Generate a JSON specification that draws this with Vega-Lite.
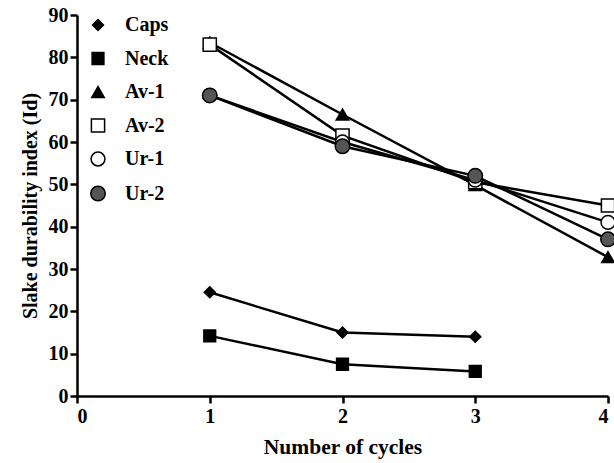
{
  "$schema": "https://vega.github.io/schema/vega-lite/v6.json",
  "width": 531,
  "height": 381,
  "autosize": {"type": "none"},
  "padding": {"left": 77, "top": 15, "right": 6, "bottom": 67},
  "background": "white",
  "config": {
    "view": {"stroke": null},
    "font": "Liberation Serif",
    "axis": {
      "grid": false,
      "domainColor": "black",
      "domainWidth": 2.5,
      "tickColor": "black",
      "tickWidth": 2.5,
      "tickSize": 7,
      "labelFont": "Liberation Serif",
      "labelFontWeight": "bold",
      "labelFontSize": 20,
      "labelColor": "black",
      "titleFont": "Liberation Serif",
      "titleFontWeight": "bold",
      "titleColor": "black"
    },
    "legend": {
      "labelFont": "Liberation Serif",
      "labelFontWeight": "bold",
      "labelFontSize": 20,
      "labelColor": "black",
      "title": null,
      "orient": "none",
      "legendX": 11,
      "legendY": 0,
      "padding": 0,
      "rowPadding": 13.5,
      "labelOffset": 17,
      "symbolStrokeWidth": 1.5
    }
  },
  "data": {
    "values": [
      {"series": "Caps", "cycles": 1, "index": 24.5},
      {"series": "Caps", "cycles": 2, "index": 15},
      {"series": "Caps", "cycles": 3, "index": 14},
      {"series": "Neck", "cycles": 1, "index": 14.2},
      {"series": "Neck", "cycles": 2, "index": 7.5},
      {"series": "Neck", "cycles": 3, "index": 5.8},
      {"series": "Av-1", "cycles": 1, "index": 83.5},
      {"series": "Av-1", "cycles": 2, "index": 66.5},
      {"series": "Av-1", "cycles": 3, "index": 49.8},
      {"series": "Av-1", "cycles": 4, "index": 32.8},
      {"series": "Av-2", "cycles": 1, "index": 83},
      {"series": "Av-2", "cycles": 2, "index": 61.5},
      {"series": "Av-2", "cycles": 3, "index": 50.5},
      {"series": "Av-2", "cycles": 4, "index": 45},
      {"series": "Ur-1", "cycles": 1, "index": 71},
      {"series": "Ur-1", "cycles": 2, "index": 60},
      {"series": "Ur-1", "cycles": 3, "index": 51},
      {"series": "Ur-1", "cycles": 4, "index": 41},
      {"series": "Ur-2", "cycles": 1, "index": 71},
      {"series": "Ur-2", "cycles": 2, "index": 59},
      {"series": "Ur-2", "cycles": 3, "index": 52},
      {"series": "Ur-2", "cycles": 4, "index": 37}
    ]
  },
  "encoding": {
    "x": {
      "field": "cycles",
      "type": "quantitative",
      "scale": {"domain": [0, 4], "nice": false},
      "axis": {"values": [0, 1, 2, 3, 4], "format": "d", "title": "Number of cycles", "titleFontSize": 21.5, "titlePadding": 10, "labelPadding": 3}
    },
    "y": {
      "field": "index",
      "type": "quantitative",
      "scale": {"domain": [0, 90], "nice": false},
      "axis": {"values": [0, 10, 20, 30, 40, 50, 60, 70, 80, 90], "title": "Slake durability index (Id)", "titleFontSize": 20, "titlePadding": 8, "labelPadding": 2}
    }
  },
  "layer": [
    {
      "mark": {"type": "line", "color": "black", "strokeWidth": 2.5},
      "encoding": {"detail": {"field": "series"}}
    },
    {
      "mark": {"type": "point", "filled": true, "strokeWidth": 1.5, "opacity": 1},
      "encoding": {
        "fill": {
          "field": "series",
          "type": "nominal",
          "scale": {"domain": ["Caps", "Neck", "Av-1", "Av-2", "Ur-1", "Ur-2"], "range": ["black", "black", "black", "white", "white", "#555555"]}
        },
        "stroke": {
          "field": "series",
          "type": "nominal",
          "scale": {"domain": ["Caps", "Neck", "Av-1", "Av-2", "Ur-1", "Ur-2"], "range": ["black", "black", "black", "black", "black", "black"]}
        },
        "shape": {
          "field": "series",
          "type": "nominal",
          "scale": {"domain": ["Caps", "Neck", "Av-1", "Av-2", "Ur-1", "Ur-2"], "range": ["diamond", "square", "triangle-up", "square", "circle", "circle"]}
        },
        "size": {
          "field": "series",
          "type": "nominal",
          "scale": {"domain": ["Caps", "Neck", "Av-1", "Av-2", "Ur-1", "Ur-2"], "range": [121, 210, 240, 130, 110, 130]}
        }
      }
    }
  ]
}
